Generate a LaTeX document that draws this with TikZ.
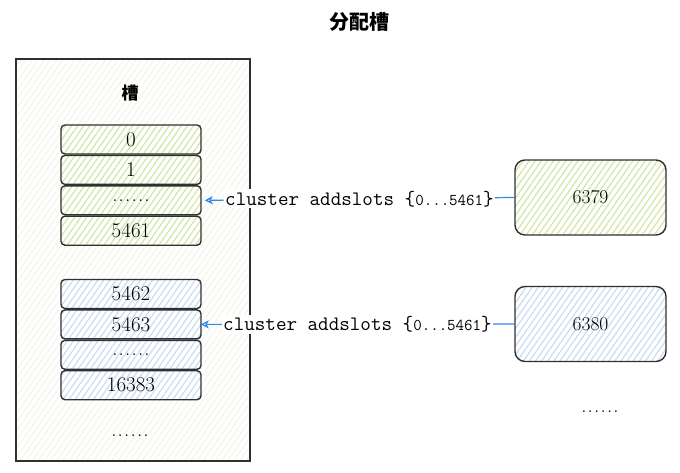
\documentclass[tikz,border=0pt]{standalone}
\usepackage{fontspec}
\newfontfamily\cjk{Noto Sans CJK SC}
\usetikzlibrary{positioning,arrows.meta,patterns.meta}
\definecolor{inkgray}{HTML}{303030}
\definecolor{hatchgreen}{HTML}{D2E6A6}
\definecolor{hatchblue}{HTML}{C8DDF2}
\definecolor{hatchpale}{HTML}{F5F6EB}
\definecolor{linkblue}{HTML}{2F8BE6}
\newcommand{\sixdots}{.\kern1.2pt.\kern1.2pt.\kern1.2pt.\kern1.2pt.\kern1.2pt.}
\begin{document}
\begin{tikzpicture}[x=1pt,y=-1pt,
    frame/.style={draw=inkgray,line width=1.4pt,minimum width=234pt,minimum height=402pt,
      preaction={fill=white},pattern={Lines[angle=55,distance=5pt,line width=1.2pt]},pattern color=hatchpale},
    greenslot/.style={draw=inkgray,line width=1.4pt,rounded corners=4pt,minimum width=140pt,minimum height=29pt,
      inner sep=0pt,font=\fontsize{21}{22}\selectfont,preaction={fill=white},
      pattern={Lines[angle=55,distance=5pt,line width=1.2pt]},pattern color=hatchgreen},
    blueslot/.style={greenslot,pattern color=hatchblue},
    greenbox/.style={greenslot,rounded corners=10pt,minimum width=151pt,minimum height=75pt,font=\fontsize{19.5}{22}\selectfont},
    bluebox/.style={greenbox,pattern color=hatchblue},
    link/.style={draw=linkblue,line width=1.2pt,-{Stealth[open,length=8pt,width=8pt,inset=2pt]}},
    cmd/.style={fill=white,inner sep=1.5pt,text=black,font=\ttfamily\fontsize{20.5}{22}\selectfont},
    dots/.style={font=\fontsize{21}{22}\selectfont}]
\useasboundingbox (0,0) rectangle (680,472);
\node[font=\cjk\bfseries\fontsize{20}{24}\selectfont] (title) at (359,22) {分配槽};
% slot table
\node[frame] (table) at (133,260) {};
\node[font=\cjk\bfseries\fontsize{17}{20}\selectfont] (caption) at (130,93) {槽};
\node[greenslot] (g0) at (131,139.5) {0};
\node[greenslot,below=0pt of g0] (g1) {1};
\node[greenslot,below=0pt of g1] (g2) {\sixdots};
\node[greenslot,below=0pt of g2] (g3) {5461};
\node[blueslot] (b0) at (131,294) {5462};
\node[blueslot,below=0pt of b0] (b1) {5463};
\node[blueslot,below=0pt of b1] (b2) {\sixdots};
\node[blueslot,below=0pt of b2] (b3) {16383};
\node[dots] (more) at (130,436) {\sixdots};
% nodes
\node[greenbox] (n6379) at (590.5,197.5) {6379};
\node[bluebox] (n6380) at (590.5,324) {6380};
\node[dots] (nmore) at (600,412) {\sixdots};
\path[link] (n6379.west) -- node[cmd] {cluster addslots \{{\fontsize{16.5}{18}\selectfont 0...5461}\}} ([xshift=3pt]g2.east);
\path[link] (n6380.west) -- node[cmd] {cluster addslots \{{\fontsize{16.5}{18}\selectfont 0...5461}\}} ([xshift=-1pt]b1.east);
\end{tikzpicture}
\end{document}
